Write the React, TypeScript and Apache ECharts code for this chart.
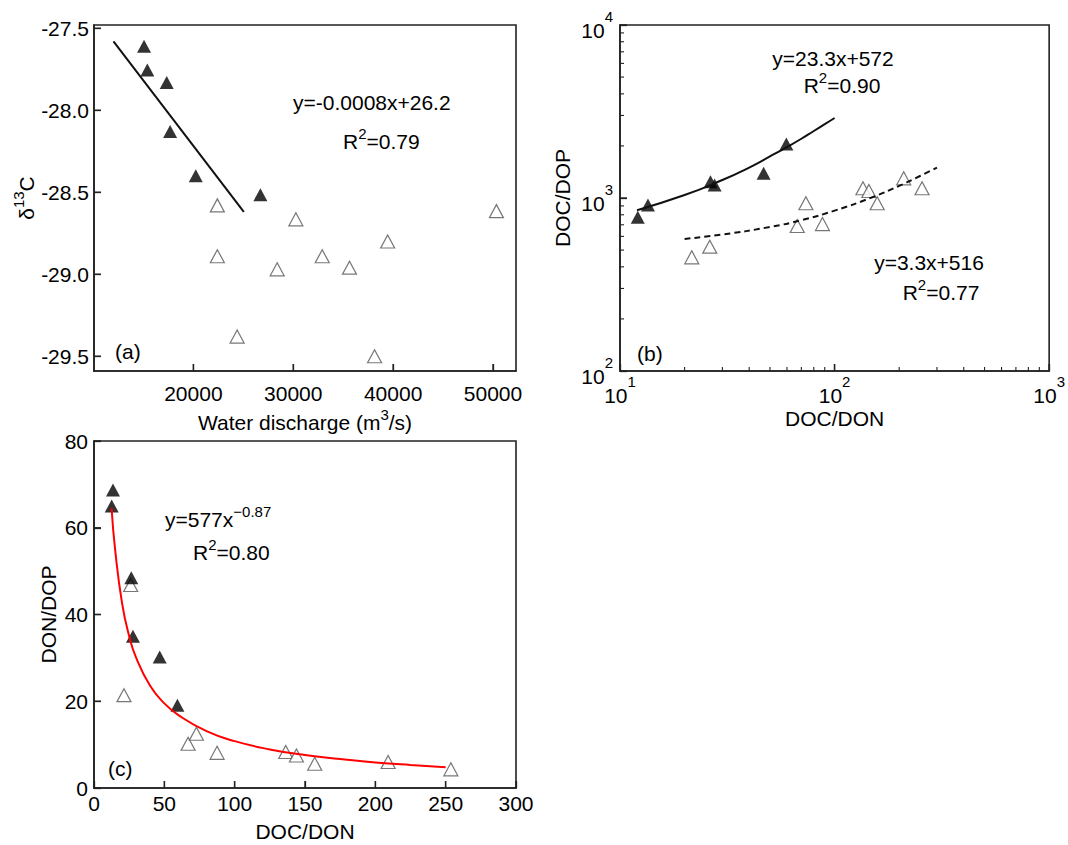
import React, { useEffect, useRef } from "react";
import * as echarts from "echarts";

// ---------- Panel (a): δ13C vs water discharge ----------
const aFilledQ = [15060, 15390, 17330, 17670, 20240, 26710];
const aFilledD13C = [-27.61, -27.755, -27.83, -28.13, -28.4, -28.515];
const aOpenQ = [22400, 22400, 24380, 28390, 30260, 32900, 35630, 38140, 39450, 50340];
const aOpenD13C = [-28.58, -28.89, -29.38, -28.97, -28.665, -28.89, -28.96, -29.5, -28.8, -28.615];
const aFitQ = [12000, 25050];
const aFitD13C = [-27.58, -28.62];
const aXTicks = [20000, 30000, 40000, 50000];
const aYTicks = [-29.5, -29.0, -28.5, -28.0, -27.5];
const aXRange = [10050, 52300];
const aYRange = [-29.59, -27.48];

// ---------- Panel (b): DOC/DOP vs DOC/DON (log-log) ----------
const bFilledCN = [12.1, 13.5, 26.4, 27.6, 46.7, 59.6];
const bFilledCP = [773, 911, 1243, 1189, 1389, 2051];
const bOpenCN = [21.6, 26.2, 67.0, 73.5, 87.8, 135.6, 144.5, 158, 210, 255.6];
const bOpenCP = [454, 523, 689, 932, 707, 1138, 1098, 932, 1299, 1138];
const bFitFilledCN = [12, 20, 30, 40, 50, 60, 70, 80, 90, 100];
const bFitFilledCP = [850, 1040, 1270, 1500, 1740, 1970, 2200, 2440, 2670, 2900];
const bFitOpenCN = [20, 30, 50, 70, 100, 150, 200, 250, 300];
const bFitOpenCP = [580, 615, 680, 745, 845, 1010, 1175, 1340, 1500];
const bXTicks = [10, 100, 1000];
const bYTicks = [100, 1000, 10000];
const bMinorX = [20, 30, 40, 50, 60, 70, 80, 90, 200, 300, 400, 500, 600, 700, 800, 900];
const bMinorY = [200, 300, 400, 500, 600, 700, 800, 900, 2000, 3000, 4000, 5000, 6000, 7000, 8000, 9000];

// ---------- Panel (c): DON/DOP vs DOC/DON ----------
const cFilledCN = [13.5, 12.6, 26.5, 27.7, 46.7, 59.3];
const cFilledNP = [68.7, 65.0, 48.5, 35.0, 30.2, 19.1];
const cOpenCN = [21.3, 26.1, 66.9, 72.8, 87.5, 136.3, 143.9, 156.9, 209.1, 253.7];
const cOpenNP = [21.4, 46.8, 10.2, 12.5, 8.1, 8.3, 7.5, 5.6, 6.0, 4.3];
const cFitCN = [12.5, 15, 20, 25, 30, 40, 50, 60, 80, 100, 125, 150, 175, 200, 225, 250];
const cFitNP = [64.5, 55, 42.5, 35, 30, 23.5, 19.5, 16.8, 13.1, 10.8, 8.9, 7.6, 6.7, 5.9, 5.3, 4.8];
const cXTicks = [0, 50, 100, 150, 200, 250, 300];
const cYTicks = [0, 20, 40, 60, 80];

const FONT = "'Liberation Sans', Arial, sans-serif";
const INK = "#000";
const AXIS = "#222";

const zip = (xs: number[], ys: number[]) => xs.map((x, i) => [x, ys[i]]);

const richAxis = {
  b: { fontSize: 21, fontFamily: FONT, color: INK, lineHeight: 26, verticalAlign: "bottom" },
  s: { fontSize: 15, fontFamily: FONT, color: INK, lineHeight: 15, verticalAlign: "top" },
};
const richLog = {
  b: { fontSize: 21, fontFamily: FONT, color: INK, lineHeight: 32, verticalAlign: "bottom" },
  s: { fontSize: 15, fontFamily: FONT, color: INK, lineHeight: 15, verticalAlign: "top" },
};
const richGraphic = {
  b: { fontSize: 21, fontFamily: FONT, fill: INK, lineHeight: 26, verticalAlign: "bottom" },
  s: { fontSize: 15, fontFamily: FONT, fill: INK, lineHeight: 15, verticalAlign: "top" },
};

const axisCommon = {
  axisLine: { show: true, onZero: false, lineStyle: { color: AXIS, width: 1.6 } },
  axisTick: { show: true, inside: true, length: 7, lineStyle: { color: AXIS, width: 1.3 } },
  splitLine: { show: false },
  nameLocation: "middle" as const,
};

const openStyle = { color: "#fff", borderColor: "#555", borderWidth: 1.2 };
const filledStyle = { color: "#000" };

function buildOption(): any {
  const grids = [
    { left: 94, top: 25, width: 422, height: 346 },
    { left: 620, top: 25, width: 432, height: 346 },
    { left: 94, top: 441, width: 422, height: 347 },
  ].map((g) => ({ ...g, show: true, borderColor: AXIS, borderWidth: 1.6, backgroundColor: "transparent" }));

  const xAxis = [
    {
      ...axisCommon,
      gridIndex: 0,
      type: "value",
      min: aXRange[0],
      max: aXRange[1],
      axisTick: { ...axisCommon.axisTick, customValues: aXTicks },
      axisLabel: { customValues: aXTicks, margin: 12, fontSize: 21, fontFamily: FONT, color: INK, formatter: (v: number) => String(v) },
      name: "{b|Water discharge (m}{s|3}{b|/s)}",
      nameGap: 36,
      nameTextStyle: { rich: richAxis },
    },
    {
      ...axisCommon,
      gridIndex: 1,
      type: "log",
      logBase: 10,
      min: bXTicks[0],
      max: bXTicks[2],
      axisLabel: {
        margin: 3,
        formatter: (v: number) => `{b|10}{s|${Math.round(Math.log10(v))}}`,
        rich: richLog,
      },
      name: "DOC/DON",
      nameGap: 37,
      nameTextStyle: { fontSize: 21, fontFamily: FONT, color: INK },
    },
    {
      ...axisCommon,
      gridIndex: 2,
      type: "value",
      min: 0,
      max: 300,
      interval: 50,
      axisLabel: { margin: 5, fontSize: 21, fontFamily: FONT, color: INK },
      name: "DOC/DON",
      nameGap: 33,
      nameTextStyle: { fontSize: 21, fontFamily: FONT, color: INK },
    },
  ];

  const yAxis = [
    {
      ...axisCommon,
      gridIndex: 0,
      type: "value",
      min: aYRange[0],
      max: aYRange[1],
      axisTick: { ...axisCommon.axisTick, customValues: aYTicks },
      axisLabel: { customValues: aYTicks, margin: 5, fontSize: 21, fontFamily: FONT, color: INK, formatter: (v: number) => v.toFixed(1) },
      name: "{b|δ}{s|13}{b|C}",
      nameGap: 56,
      nameTextStyle: { rich: richAxis },
    },
    {
      ...axisCommon,
      gridIndex: 1,
      type: "log",
      logBase: 10,
      min: bYTicks[0],
      max: bYTicks[2],
      axisLabel: {
        margin: 7,
        formatter: (v: number) => `{b|10}{s|${Math.round(Math.log10(v))}}`,
        rich: richLog,
      },
      name: "DOC/DOP",
      nameGap: 47,
      nameTextStyle: { fontSize: 21, fontFamily: FONT, color: INK },
    },
    {
      ...axisCommon,
      gridIndex: 2,
      type: "value",
      min: 0,
      max: 80,
      interval: 20,
      axisLabel: { margin: 6, fontSize: 21, fontFamily: FONT, color: INK },
      name: "DON/DOP",
      nameGap: 35,
      nameTextStyle: { fontSize: 21, fontFamily: FONT, color: INK },
    },
  ];

  const tri = (name: string, idx: number, data: number[][], style: any, z: number) => ({
    name,
    type: "scatter",
    xAxisIndex: idx,
    yAxisIndex: idx,
    symbol: "triangle",
    symbolSize: [14, 13],
    itemStyle: style,
    data,
    z,
  });

  const fit = (name: string, idx: number, data: number[][], color: string, type: any, smooth: boolean) => ({
    name,
    type: "line",
    xAxisIndex: idx,
    yAxisIndex: idx,
    showSymbol: false,
    smooth,
    lineStyle: { color, width: 2, type },
    data,
    z: 5,
  });

  // tick marks drawn inward from the axis, positioned through the axis scales
  const ticks = (name: string, idx: number, data: number[][], horizontal: boolean, len: number, w: number) => ({
    name,
    type: "custom",
    xAxisIndex: idx,
    yAxisIndex: idx,
    silent: true,
    clip: false,
    z: 6,
    data,
    renderItem: (_p: any, api: any) => {
      const pt = api.coord([api.value(0), api.value(1)]);
      return {
        type: "line",
        shape: horizontal
          ? { x1: pt[0], y1: pt[1], x2: pt[0] + len, y2: pt[1] }
          : { x1: pt[0], y1: pt[1], x2: pt[0], y2: pt[1] - len },
        style: { stroke: AXIS, lineWidth: w },
      };
    },
  });

  const series = [
    tri("a-open", 0, zip(aOpenQ, aOpenD13C), openStyle, 2),
    tri("a-filled", 0, zip(aFilledQ, aFilledD13C), filledStyle, 3),
    fit("a-fit", 0, zip(aFitQ, aFitD13C), "#111", "solid", false),
    ticks("a-tick-x", 0, aXTicks.map((v) => [v, aYRange[0]]), false, 7, 1.4),
    ticks("a-tick-y", 0, aYTicks.map((v) => [aXRange[0], v]), true, 7, 1.4),

    tri("b-open", 1, zip(bOpenCN, bOpenCP), openStyle, 2),
    tri("b-filled", 1, zip(bFilledCN, bFilledCP), filledStyle, 3),
    fit("b-fit-filled", 1, zip(bFitFilledCN, bFitFilledCP), "#111", "solid", true),
    fit("b-fit-open", 1, zip(bFitOpenCN, bFitOpenCP), "#111", [6, 4], true),
    ticks("b-tick-x", 1, bXTicks.map((v) => [v, bYTicks[0]]), false, 7, 1.4),
    ticks("b-tick-y", 1, bYTicks.map((v) => [bXTicks[0], v]), true, 7, 1.4),
    ticks("b-minor-x", 1, bMinorX.map((v) => [v, bYTicks[0]]), false, 4, 1.1),
    ticks("b-minor-y", 1, bMinorY.map((v) => [bXTicks[0], v]), true, 4, 1.1),

    tri("c-open", 2, zip(cOpenCN, cOpenNP), openStyle, 2),
    tri("c-filled", 2, zip(cFilledCN, cFilledNP), filledStyle, 3),
    fit("c-fit", 2, zip(cFitCN, cFitNP), "#ff0000", "solid", true),
    ticks("c-tick-x", 2, cXTicks.map((v) => [v, cYTicks[0]]), false, 7, 1.4),
    ticks("c-tick-y", 2, cYTicks.map((v) => [cXTicks[0], v]), true, 7, 1.4),
  ];

  const txt = (x: number, y: number, text: string, align = "left") => ({
    type: "text",
    x,
    y,
    z: 100,
    style: { text, fontSize: 21, fontFamily: FONT, fill: INK, align, verticalAlign: "middle" },
  });
  const rtxt = (x: number, y: number, text: string, align = "left") => ({
    type: "text",
    x,
    y,
    z: 100,
    style: { text, fontSize: 21, fontFamily: FONT, fill: INK, align, verticalAlign: "middle", rich: richGraphic },
  });

  const graphic = [
    txt(293, 102, "y=-0.0008x+26.2"),
    rtxt(343, 139, "{b|R}{s|2}{b|=0.79}"),
    txt(115, 351, "(a)"),

    txt(833, 58, "y=23.3x+572", "center"),
    rtxt(842, 83, "{b|R}{s|2}{b|=0.90}", "center"),
    txt(929, 262, "y=3.3x+516", "center"),
    rtxt(941, 290, "{b|R}{s|2}{b|=0.77}", "center"),
    txt(637, 353, "(b)"),

    rtxt(165, 517, "{b|y=577x}{s|−0.87}"),
    rtxt(193, 550, "{b|R}{s|2}{b|=0.80}"),
    txt(108, 768, "(c)"),
  ];

  return {
    animation: false,
    backgroundColor: "#fff",
    textStyle: { fontFamily: FONT },
    grid: grids,
    xAxis,
    yAxis,
    series,
    graphic,
  };
}

export default function App() {
  const ref = useRef<HTMLDivElement>(null);
  useEffect(() => {
    if (!ref.current) return;
    const chart = echarts.init(ref.current, undefined, { renderer: "svg" });
    chart.setOption(buildOption());
    return () => chart.dispose();
  }, []);
  return (
    <div
      ref={ref}
      style={{ position: "absolute", left: 0, top: 0, width: 1068, height: 845, background: "#fff" }}
    />
  );
}
